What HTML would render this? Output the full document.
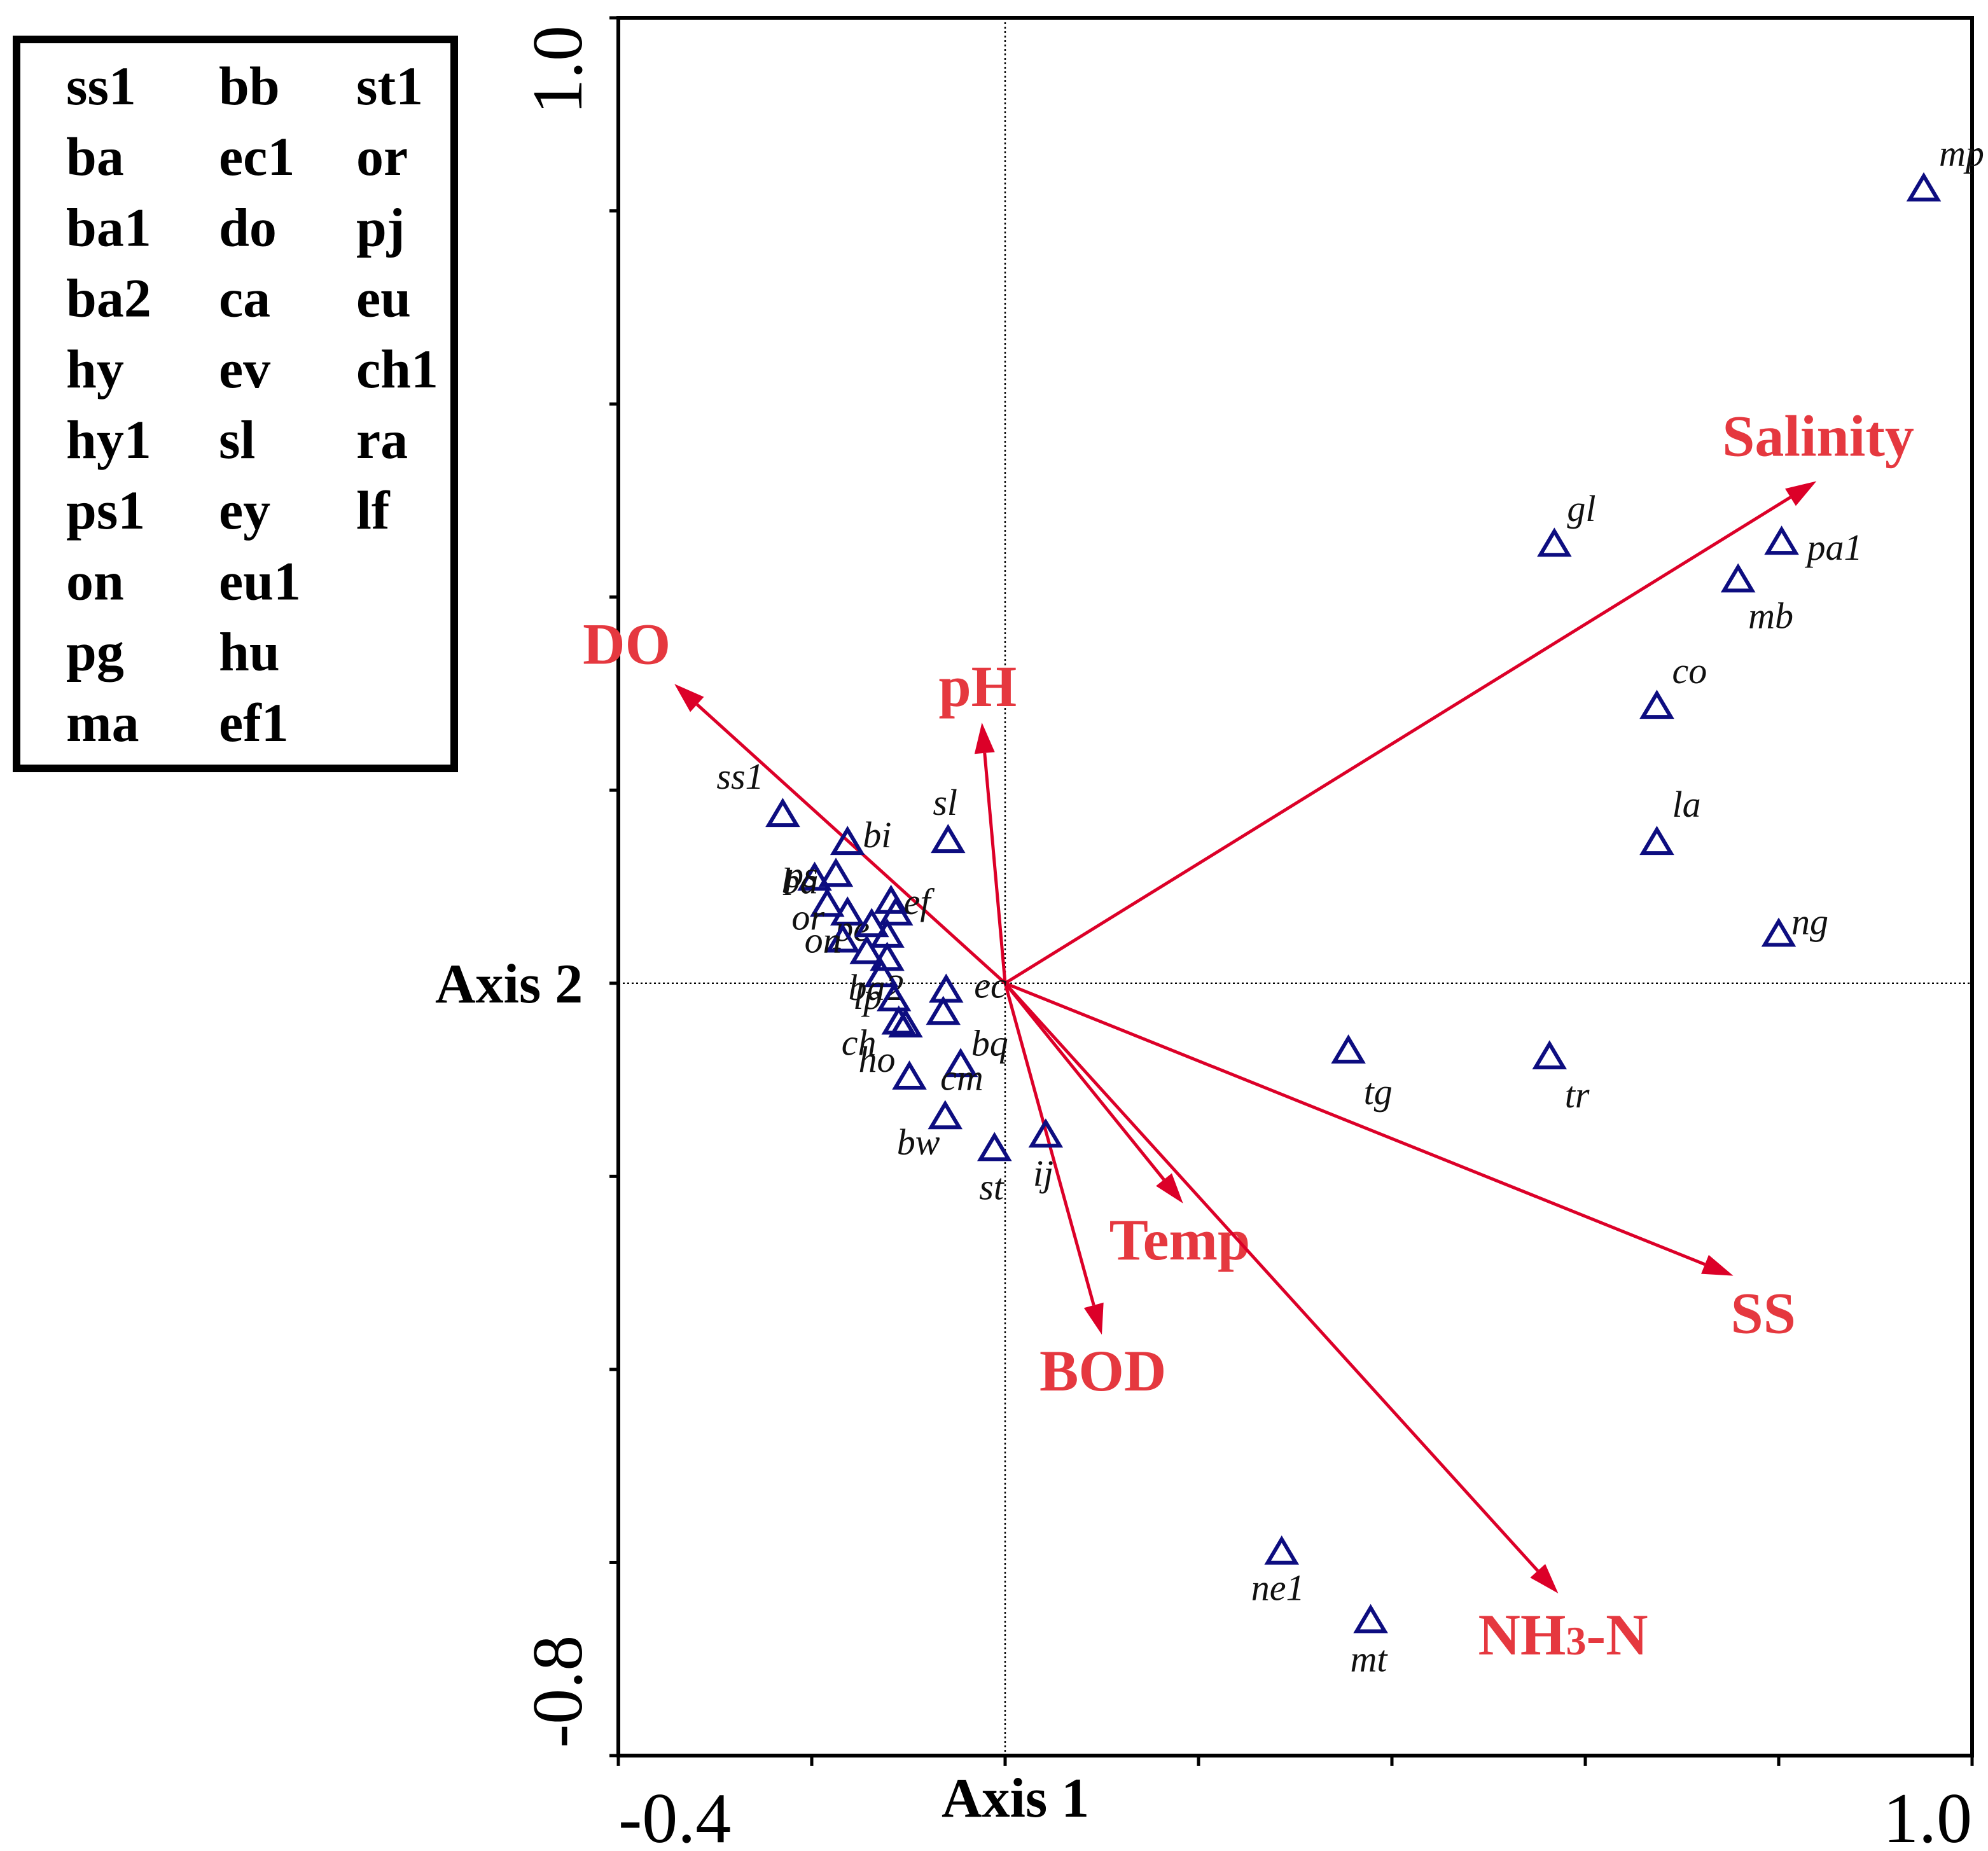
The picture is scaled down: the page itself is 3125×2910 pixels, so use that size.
<!DOCTYPE html>
<html><head><meta charset="utf-8"><style>html,body{margin:0;padding:0;background:#fff}svg{display:block}</style></head>
<body>
<svg id="chart" xmlns="http://www.w3.org/2000/svg" width="3125" height="2910" viewBox="0 0 1562.5 1455">
<rect x="0" y="0" width="1562.5" height="1455" fill="#fff"/>
<g>
<rect x="13" y="31" width="344" height="573" fill="none" stroke="#000" stroke-width="6"/>
<g id="legendText" font-family="Liberation Serif, serif" font-weight="bold" font-size="43" fill="#000"></g>
</g>
<g id="axes"></g>
<g id="arrows"></g>
<g id="points"></g>
<text x="342" y="788" font-family="Liberation Serif, serif" font-weight="bold" font-size="44" fill="#000">Axis 2</text>
<text x="740" y="1428" font-family="Liberation Serif, serif" font-weight="bold" font-size="44" fill="#000">Axis 1</text>
<script>
var legendCol1=["ss1","ba","ba1","ba2","hy","hy1","ps1","on","pg","ma"];
var legendCol2=["bb","ec1","do","ca","ev","sl","ey","eu1","hu","ef1"];
var legendCol3=["st1","or","pj","eu","ch1","ra","lf"];
var xTicks=[-0.4,-0.2,0,0.2,0.4,0.6,0.8,1.0];
var yTicks=[-0.8,-0.6,-0.4,-0.2,0,0.2,0.4,0.6,0.8,1.0];
var envNames=["Salinity","DO","pH","Temp","BOD","SS","NH3-N"];
var envX=[0.839,-0.342,-0.024,0.184,0.100,0.753,0.572];
var envY=[0.520,0.310,0.270,-0.228,-0.364,-0.303,-0.632];
var spNames=["mp","gl","pa1","mb","co","la","ng","tg","tr","ne1","mt","sl","ec","bq","cm","ho","bw","st","ij","ss1","bi","c1","c2","c3","c4","c5","c6","c7","c8","c9","c10","c11","c12","lp","ch","c13"];
var spX=[0.950,0.568,0.803,0.758,0.674,0.674,0.800,0.355,0.563,0.286,0.378,-0.059,-0.061,-0.064,-0.046,-0.099,-0.062,-0.011,0.042,-0.230,-0.163,-0.197,-0.175,-0.118,-0.113,-0.184,-0.163,-0.138,-0.122,-0.168,-0.143,-0.122,-0.128,-0.115,-0.110,-0.103];
var spY=[0.823,0.455,0.457,0.418,0.287,0.146,0.051,-0.070,-0.076,-0.589,-0.660,0.148,-0.007,-0.030,-0.084,-0.097,-0.138,-0.171,-0.157,0.175,0.146,0.109,0.113,0.085,0.073,0.082,0.073,0.061,0.050,0.045,0.033,0.026,0.009,-0.016,-0.040,-0.043];
var spLabels=["mp","gl","pa1","mb","co","la","ng","tg","tr","ne1","mt","sl","ec","bq","cm","ho","bw","st","ij","ss1","bi","ba","ps","ef","","or","pe","","","on","","","ba2","lp","ch",""];
var NS="http://www.w3.org/2000/svg";
function sx(v){return 486+(v+0.4)*1064/1.4;}
function sy(v){return 1380-(v+0.8)*1366/1.8;}
function mk(tag,attrs,parent){var e=document.createElementNS(NS,tag);for(var k in attrs)e.setAttribute(k,attrs[k]);parent.appendChild(e);return e;}
var lg=document.getElementById('legendText');
[[legendCol1,52],[legendCol2,172],[legendCol3,280]].forEach(function(c){
 c[0].forEach(function(s,i){var t=mk('text',{x:c[1],y:82+i*55.6},lg);t.textContent=s;
 
 });
});
var ax=document.getElementById('axes');
var fr=mk('path',{d:'M'+sx(-0.4)+' '+sy(1.0)+' H'+sx(1.0)+' V'+sy(-0.8)+' H'+sx(-0.4)+' Z',fill:'none',stroke:'#000','stroke-width':3},ax);


var zx=mk('line',{x1:sx(0),x2:sx(0),y1:sy(1.0),y2:sy(-0.8),stroke:'#000','stroke-width':1.2,'stroke-dasharray':'1.5,2'},ax);


var zy=mk('line',{x1:sx(-0.4),x2:sx(1.0),y1:sy(0),y2:sy(0),stroke:'#000','stroke-width':1.2,'stroke-dasharray':'1.5,2'},ax);


xTicks.forEach(function(v){var l=mk('line',{x1:sx(v),x2:sx(v),y1:sy(-0.8),y2:sy(-0.8)+8,stroke:'#000','stroke-width':2.5},ax);
 
 });
yTicks.forEach(function(v){var l=mk('line',{x1:sx(-0.4)-7,x2:sx(-0.4),y1:sy(v),y2:sy(v),stroke:'#000','stroke-width':2.5},ax);
 
 });
var t1=mk('text',{x:sx(-0.4),y:1448,'font-family':'Liberation Serif, serif','font-size':56},ax);t1.textContent='-0.4';


var t2=mk('text',{x:sx(1.0),y:1448,'text-anchor':'end','font-family':'Liberation Serif, serif','font-size':56},ax);t2.textContent='1.0';


var t3=mk('text',{x:0,y:0,'text-anchor':'end','font-family':'Liberation Serif, serif','font-size':56,transform:'translate(457,20) rotate(-90)'},ax);t3.textContent='1.0';


var t4=mk('text',{x:0,y:0,'text-anchor':'start','font-family':'Liberation Serif, serif','font-size':56,transform:'translate(457,1374) rotate(-90)'},ax);t4.textContent='-0.8';


var ar=document.getElementById('arrows');
var ox=sx(0),oy=sy(0);
var envLab={"Salinity":[-74,-20],"DO":[-72,-16],"pH":[-34,-13],"Temp":[-58,44],"BOD":[-49,44],"SS":[-2,45],"NH3-N":[-63,48]};
envNames.forEach(function(n,i){
 var tx=sx(envX[i]),ty=sy(envY[i]);var dx=tx-ox,dy=ty-oy,L=Math.sqrt(dx*dx+dy*dy),ux=dx/L,uy=dy/L;
 var bx=tx-ux*24,by=ty-uy*24;
 var ln=mk('line',{x1:ox,y1:oy,x2:bx,y2:by,stroke:'#dc0028','stroke-width':2.5},ar);
 
 
 var hd=mk('polygon',{points:tx+','+ty+' '+(bx-uy*8)+','+(by+ux*8)+' '+(bx+uy*8)+','+(by-ux*8),fill:'#dc0028'},ar);
 
 
 var o=envLab[n];
 var t=mk('text',{x:tx+o[0],y:ty+o[1],'font-family':'Liberation Serif, serif','font-weight':'bold','font-size':46,fill:'#e5383f'},ar);
 if(n==="NH3-N"){
  var a=mk('tspan',{},t);a.textContent='NH';
  var b=mk('tspan',{'font-size':32},t);b.textContent='3';
  var c=mk('tspan',{},t);c.textContent='-N';
 }else{t.textContent=n;}
 
 
});
var pg=document.getElementById('points');
var off={"mp":[12,-18],"gl":[10,-18],"pa1":[20,14],"mb":[8,38],"co":[12,-18],"la":[12,-20],"ng":[10,0],"tg":[12,42],"tr":[12,40],"ne1":[-24,38],"mt":[-16,40],"sl":[-12,-20],"ec":[22,6],"bq":[22,34],"cm":[-16,20],"ho":[-40,-4],"bw":[-38,30],"st":[-12,40],"ij":[-10,40],"ss1":[-52,-20],"bi":[12,4],"ba":[-26,12],"ps":[-40,10],"ef":[10,10],"or":[-28,20],"pe":[-10,22],"on":[-30,10],"ba2":[-26,20],"lp":[-32,8],"ch":[-45,26]};
spNames.forEach(function(n,i){
 var cx=sx(spX[i]),cy=sy(spY[i]);
 var tri=mk('polygon',{points:cx+','+(cy-10)+' '+(cx-11)+','+(cy+8.5)+' '+(cx+11)+','+(cy+8.5),fill:'none',stroke:'#0d0d80','stroke-width':3},pg);
 
 
 var lab=spLabels[i];
 if(lab){var o=off[lab]||[10,-10];
  var t=mk('text',{x:cx+o[0],y:cy+o[1],'font-family':'Liberation Serif, serif','font-style':'italic','font-size':29,fill:'#111'},pg);
  t.textContent=lab;
  
  }
});
</script>
</svg>
</body></html>
